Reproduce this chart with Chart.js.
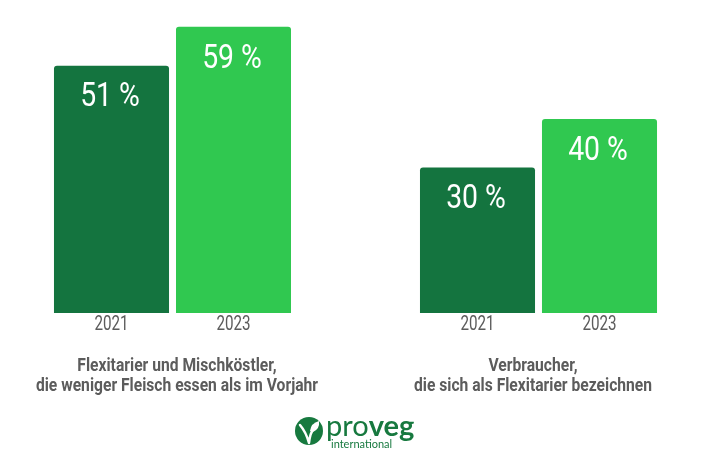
<!DOCTYPE html>
<html lang="de">
<head>
<meta charset="utf-8">
<style>
  html, body { margin: 0; background: #fff; }
  canvas { display: block; }
</style>
<script src="https://cdn.jsdelivr.net/npm/chart.js@4"></script>
</head>
<body>
<canvas id="chart" width="710" height="473"></canvas>
<script>
  // Werte aus dem Bild, die leere Kategorie trennt die beiden Gruppen
  const categories = ['2021', '2023', '', '2021', '2023'];
  const shares = [51, 59, null, 30, 40];
  const barColors = ['#14743f', '#30c850', '#fff', '#14743f', '#30c850'];
  const captions = [
    { lines: ['Flexitarier und Mischköstler,', 'die weniger Fleisch essen als im Vorjahr'], x: 177 },
    { lines: ['Verbraucher,', 'die sich als Flexitarier bezeichnen'], x: 533 }
  ];

  const grey = '#5c5c5c';
  const logoGreen = '#17793f';

  // Roboto Condensed fehlt, also Roboto horizontal stauchen
  function narrowText(ctx, text, x, y, squeeze) {
    ctx.save();
    ctx.translate(x, y);
    ctx.scale(squeeze, 1);
    ctx.fillText(text, 0, 0);
    ctx.restore();
  }

  // Prozentwerte in den Balken
  const valueLabels = {
    id: 'valueLabels',
    afterDatasetsDraw(chart) {
      const { ctx } = chart;
      ctx.save();
      ctx.font = '33px Roboto, sans-serif';
      ctx.fillStyle = '#fff';
      ctx.textAlign = 'center';
      ctx.textBaseline = 'middle';
      chart.getDatasetMeta(0).data.forEach((bar, i) => {
        if (shares[i] === null) return;
        narrowText(ctx, shares[i] + ' %', bar.x - 1.5, bar.y + 32.5, 0.86);
      });
      ctx.restore();
    }
  };

  // Jahre unter den Balken, Position kommt von der x-Achse
  const yearLabels = {
    id: 'yearLabels',
    afterDatasetsDraw(chart) {
      const { ctx, scales } = chart;
      ctx.save();
      ctx.font = '20px Roboto, sans-serif';
      ctx.fillStyle = grey;
      ctx.textAlign = 'center';
      ctx.textBaseline = 'middle';
      categories.forEach((year, i) => {
        narrowText(ctx, year, scales.x.getPixelForTick(i), scales.x.top + 11.5, 0.76);
      });
      ctx.restore();
    }
  };

  // Bildunterschriften
  const captionText = {
    id: 'captionText',
    afterDraw(chart) {
      const { ctx } = chart;
      ctx.save();
      ctx.font = 'bold 19px Roboto, sans-serif';
      ctx.fillStyle = grey;
      ctx.textAlign = 'center';
      ctx.textBaseline = 'middle';
      captions.forEach(c => {
        narrowText(ctx, c.lines[0], c.x, 366, 0.823);
        narrowText(ctx, c.lines[1], c.x, 386, 0.823);
      });
      ctx.restore();
    }
  };

  // Logo unten in der Mitte
  const logo = {
    id: 'logo',
    afterDraw(chart) {
      const { ctx } = chart;
      ctx.save();
      ctx.fillStyle = logoGreen;
      ctx.beginPath();
      ctx.arc(309, 431, 14, 0, Math.PI * 2);
      ctx.fill();

      ctx.strokeStyle = '#fff';
      ctx.lineWidth = 2.5;
      ctx.lineCap = 'round';
      ctx.lineJoin = 'round';
      ctx.beginPath();
      ctx.moveTo(300, 425);
      ctx.quadraticCurveTo(306, 432, 309, 443);
      ctx.quadraticCurveTo(310, 433, 314, 428);
      ctx.stroke();
      ctx.fillStyle = '#fff';
      ctx.beginPath();
      ctx.moveTo(310, 431);
      ctx.quadraticCurveTo(311, 423, 319, 421);
      ctx.quadraticCurveTo(320, 429, 313, 432);
      ctx.closePath();
      ctx.fill();

      ctx.fillStyle = logoGreen;
      ctx.textBaseline = 'alphabetic';
      ctx.textAlign = 'left';
      ctx.font = '29px Lato, sans-serif';
      ctx.fillText('pro', 326, 436);
      const w = ctx.measureText('pro').width;
      ctx.font = 'bold 29px Lato, sans-serif';
      ctx.fillText('veg', 326 + w, 436);
      ctx.font = '11px Lato, sans-serif';
      ctx.fillText('international', 331, 448);
      ctx.restore();
    }
  };

  new Chart(document.getElementById('chart'), {
    type: 'bar',
    data: {
      labels: categories,
      datasets: [{
        data: shares,
        backgroundColor: barColors,
        borderRadius: 3,
        barPercentage: 1,
        categoryPercentage: 0.943
      }]
    },
    options: {
      responsive: false,
      animation: false,
      layout: { padding: { left: 50.5, right: 49.5, top: 22, bottom: 0 } },
      plugins: {
        legend: { display: false },
        tooltip: { enabled: false }
      },
      scales: {
        x: {
          afterFit(scale) { scale.height = 160; },
          grid: { display: false },
          border: { display: false },
          ticks: { display: false }
        },
        y: { display: false, min: 0, max: 60 }
      }
    },
    plugins: [valueLabels, yearLabels, captionText, logo]
  });
</script>
</body>
</html>
